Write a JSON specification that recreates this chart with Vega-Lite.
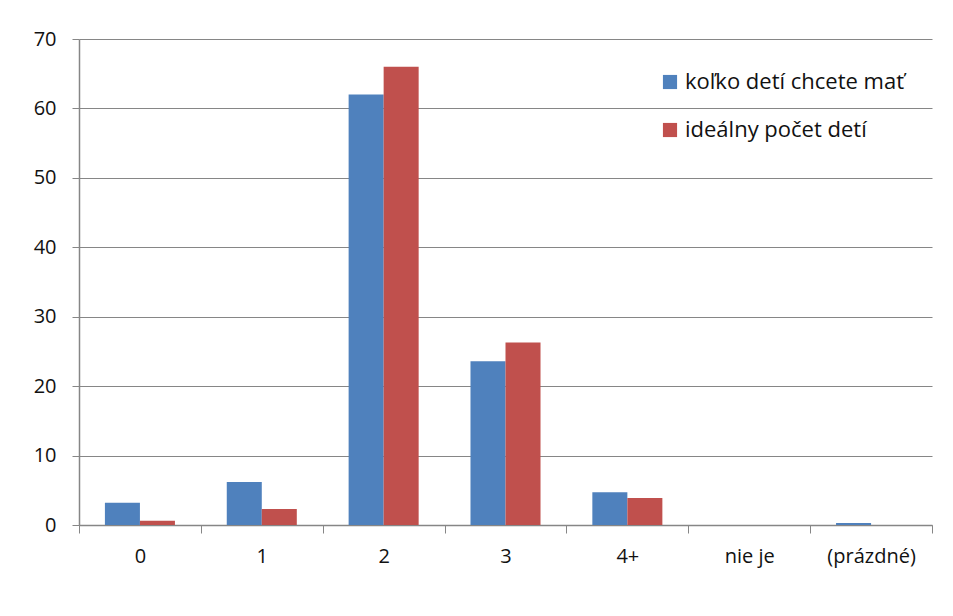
{
  "$schema": "https://vega.github.io/schema/vega-lite/v6.json",
  "width": 853,
  "height": 486,
  "autosize": {"type": "none"},
  "padding": {"left": 79, "top": 39, "right": 21, "bottom": 91},
  "background": "white",
  "config": {
    "view": {"stroke": null},
    "font": "Open Sans",
    "axis": {"labelFont": "Open Sans", "labelFontSize": 20, "labelColor": "#111111", "domainColor": "#868686", "tickColor": "#868686", "gridColor": "#868686"},
    "legend": {"labelFont": "Open Sans", "labelFontSize": 22, "labelColor": "#111111", "labelLimit": 400}
  },
  "data": {
    "values": [
      {"kategoria": "0", "seria": "koľko detí chcete mať", "hodnota": 3.2},
      {"kategoria": "0", "seria": "ideálny počet detí", "hodnota": 0.6},
      {"kategoria": "1", "seria": "koľko detí chcete mať", "hodnota": 6.2},
      {"kategoria": "1", "seria": "ideálny počet detí", "hodnota": 2.3},
      {"kategoria": "2", "seria": "koľko detí chcete mať", "hodnota": 62},
      {"kategoria": "2", "seria": "ideálny počet detí", "hodnota": 66},
      {"kategoria": "3", "seria": "koľko detí chcete mať", "hodnota": 23.6},
      {"kategoria": "3", "seria": "ideálny počet detí", "hodnota": 26.3},
      {"kategoria": "4+", "seria": "koľko detí chcete mať", "hodnota": 4.7},
      {"kategoria": "4+", "seria": "ideálny počet detí", "hodnota": 3.9},
      {"kategoria": "nie je", "seria": "koľko detí chcete mať", "hodnota": 0},
      {"kategoria": "nie je", "seria": "ideálny počet detí", "hodnota": 0},
      {"kategoria": "(prázdné)", "seria": "koľko detí chcete mať", "hodnota": 0.3},
      {"kategoria": "(prázdné)", "seria": "ideálny počet detí", "hodnota": 0}
    ]
  },
  "mark": {"type": "bar"},
  "encoding": {
    "x": {
      "field": "kategoria", "type": "nominal",
      "sort": ["0", "1", "2", "3", "4+", "nie je", "(prázdné)"],
      "scale": {"paddingInner": 0, "paddingOuter": 0},
      "axis": {"title": null, "labelAngle": 0, "tickBand": "extent", "tickSize": 8, "labelPadding": 13, "domainWidth": 1.5, "grid": false}
    },
    "xOffset": {
      "field": "seria", "type": "nominal",
      "sort": ["koľko detí chcete mať", "ideálny počet detí"],
      "scale": {"paddingInner": 0, "paddingOuter": 0.74}
    },
    "y": {
      "field": "hodnota", "type": "quantitative",
      "scale": {"domain": [0, 70], "nice": false},
      "axis": {"title": null, "values": [0, 10, 20, 30, 40, 50, 60, 70], "tickSize": 7, "labelPadding": 16, "grid": true, "domainWidth": 1.5}
    },
    "color": {
      "field": "seria", "type": "nominal",
      "sort": ["koľko detí chcete mať", "ideálny počet detí"],
      "scale": {"range": ["#4F81BD", "#C0504D"]},
      "legend": {"title": null, "orient": "none", "legendX": 580, "legendY": 32, "symbolType": "square", "symbolSize": 200, "symbolStrokeWidth": 0, "rowPadding": 26, "labelOffset": 4}
    }
  }
}
